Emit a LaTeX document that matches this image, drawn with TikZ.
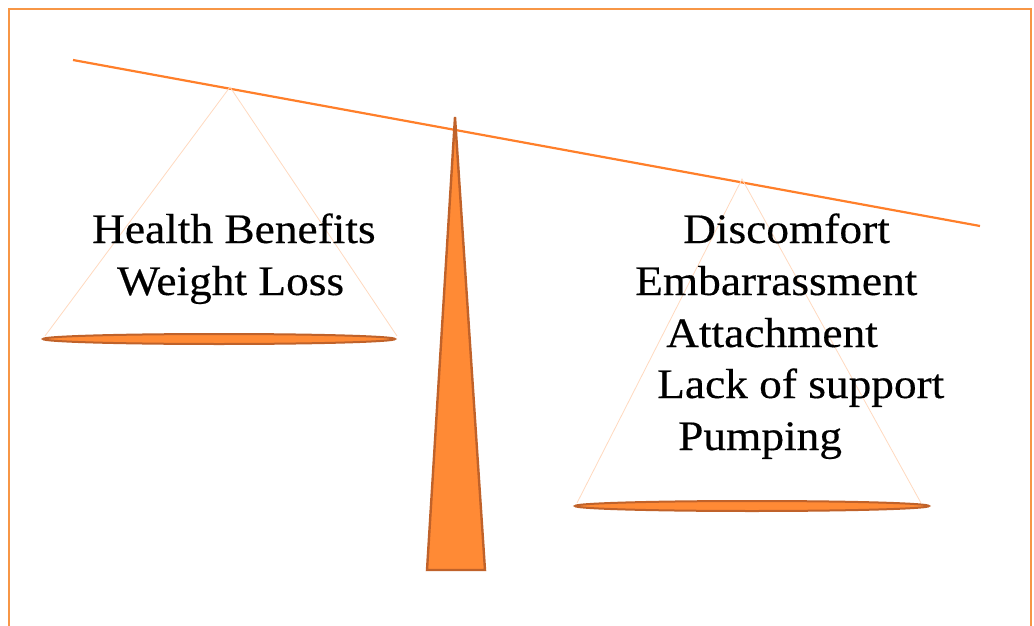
\documentclass[tikz,border=0pt]{standalone}
\usepackage{fontspec}
\setmainfont[FakeStretch=1.08,FakeBold=0.4]{Liberation Serif}
\usepackage{tikz}
\usepackage{xcolor}
\definecolor{frameorange}{HTML}{F79646}
\definecolor{beamorange}{HTML}{FF7F2A}
\definecolor{fillorange}{HTML}{FF8A35}
\definecolor{edgeorange}{HTML}{C0622A}

\begin{document}
\begin{tikzpicture}[x=1pt,y=-1pt,
  string/.style={draw=beamorange!30,line width=0.8pt},
  pan/.style={fill=fillorange,draw=edgeorange,line width=2pt},
  word/.style={anchor=base west,inner sep=0pt,font=\fontsize{42}{50}\selectfont}]
  \useasboundingbox (0,0) rectangle (1034,626);
  \draw[frameorange,line width=2pt] (9,640)--(9,9)--(1031,9)--(1031,640);
  % beam
  \draw[beamorange,line width=2.2pt] (73,60) -- (980,226);
  \coordinate (lhook) at (230,87);
  \coordinate (rhook) at (742,179);
  % left pan
  \draw[string] (45,336) -- (lhook) -- (397,336);
  \path[pan] (219,339) ellipse (176 and 5);
  % right pan
  \draw[string] (577,503) -- (rhook) -- (921,503);
  \path[pan] (752,506) ellipse (177 and 5);
  % fulcrum
  \draw[pan,line width=2.4pt,line join=miter] (455,117)--(485,570)--(427,570)--cycle;
  % labels
  \node[word] (health) at (92,243) {Health Benefits};
  \node[word] (weight) at (117,295) {Weight Loss};
  \node[word] (discomfort) at (683,243) {Discomfort};
  \node[word] (embarr) at (635,295) {Embarrassment};
  \node[word] (attach) at (666,347) {Attachment};
  \node[word] (lack) at (657,398) {Lack of support};
  \node[word] (pumping) at (678,450) {Pumping};
\end{tikzpicture}
\end{document}
